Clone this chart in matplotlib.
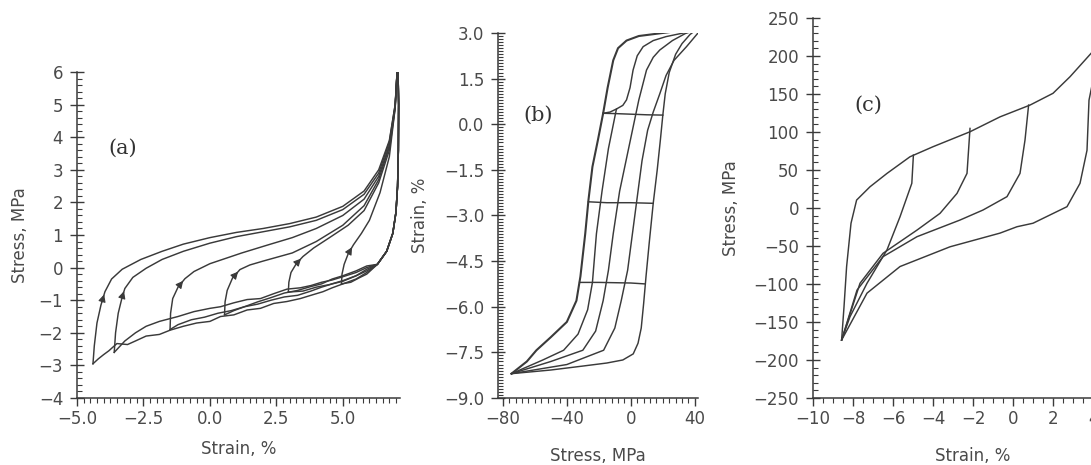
import numpy as np
import matplotlib.pyplot as plt
from matplotlib.ticker import MultipleLocator, FuncFormatter

# ---------------- panel (a): stress vs strain, loops with arrows ----------------
a_load_x = [
    [-4.4, -4.35, -4.25, -4.1, -3.95, -3.7, -3.3, -2.6, -1.8, -1.0, 0.0, 1.0, 2.0, 3.0, 4.0, 5.0, 5.8, 6.35, 6.75, 6.97, 7.07],
    [-3.6, -3.55, -3.45, -3.3, -3.2, -2.9, -2.4, -1.8, -1.0, 0.0, 1.0, 2.0, 3.0, 4.0, 5.0, 5.8, 6.35, 6.75, 6.97, 7.07],
    [-1.5, -1.48, -1.4, -1.2, -0.94, -0.6, 0.0, 1.2, 2.2, 3.1, 4.0, 5.0, 5.8, 6.35, 6.75, 6.97, 7.07],
    [0.55, 0.57, 0.65, 0.85, 1.13, 1.5, 2.0, 3.1, 4.0, 5.0, 5.8, 6.35, 6.75, 6.97, 7.07],
    [2.95, 2.97, 3.05, 3.25, 3.5, 3.9, 4.5, 5.2, 5.8, 6.35, 6.75, 6.97, 7.07],
    [4.95, 4.97, 5.05, 5.2, 5.4, 5.7, 6.0, 6.4, 6.75, 6.97, 7.07],
]
a_load_y = [
    [-2.95, -2.4, -1.7, -1.15, -0.74, -0.35, -0.05, 0.25, 0.5, 0.72, 0.92, 1.08, 1.2, 1.35, 1.55, 1.88, 2.35, 3.0, 3.9, 5.0, 6.4],
    [-2.6, -2.0, -1.4, -0.9, -0.64, -0.3, -0.02, 0.25, 0.5, 0.75, 0.95, 1.1, 1.25, 1.45, 1.78, 2.25, 2.9, 3.85, 5.0, 6.4],
    [-1.9, -1.4, -0.95, -0.6, -0.34, -0.12, 0.12, 0.45, 0.7, 0.92, 1.2, 1.6, 2.1, 2.8, 3.75, 4.95, 6.4],
    [-1.45, -1.05, -0.7, -0.32, -0.06, 0.08, 0.2, 0.45, 0.8, 1.3, 1.9, 2.7, 3.7, 4.95, 6.4],
    [-0.75, -0.45, -0.15, 0.12, 0.34, 0.6, 0.92, 1.3, 1.75, 2.6, 3.6, 4.9, 6.4],
    [-0.5, -0.2, 0.1, 0.42, 0.7, 1.05, 1.45, 2.3, 3.4, 4.9, 6.4],
]
a_arrow_idx = [4, 4, 4, 4, 4, 4]

a_unload_head_x = [7.07, 7.1, 7.09, 7.06, 7.0, 6.88, 6.65, 6.3]
a_unload_head_y = [6.4, 5.0, 3.6, 2.5, 1.7, 1.05, 0.5, 0.1]
a_unload_x = [
    [5.9, 5.5, 5.0, 4.6, 4.25, 3.8, 3.4, 2.9, 2.4, 1.9, 1.4, 0.9, 0.4, 0.0, -0.5, -1.0, -1.5, -1.9, -2.4, -2.8, -3.1, -3.5, -3.8, -4.0, -4.2, -4.4],
    [5.9, 5.5, 5.0, 4.6, 4.2, 3.8, 3.4, 2.9, 2.4, 1.9, 1.4, 0.9, 0.4, 0.0, -0.6, -1.2, -1.9, -2.4, -2.8, -3.2, -3.6],
    [5.9, 5.5, 5.0, 4.6, 4.2, 3.8, 3.3, 2.8, 2.3, 1.8, 1.3, 0.8, 0.3, -0.2, -0.7, -1.2, -1.5],
    [5.9, 5.5, 5.0, 4.6, 4.2, 3.8, 3.3, 2.8, 2.3, 1.8, 1.3, 0.9, 0.55],
    [5.9, 5.5, 5.0, 4.5, 4.0, 3.5, 2.95],
    [5.9, 5.6, 5.3, 4.95],
]
a_unload_y = [
    [-0.15, -0.35, -0.5, -0.62, -0.74, -0.85, -0.95, -1.04, -1.1, -1.25, -1.3, -1.45, -1.5, -1.65, -1.7, -1.8, -1.92, -2.05, -2.1, -2.25, -2.36, -2.33, -2.55, -2.67, -2.8, -2.95],
    [0.0, -0.15, -0.28, -0.38, -0.45, -0.55, -0.62, -0.66, -0.8, -0.95, -0.98, -1.08, -1.2, -1.25, -1.35, -1.5, -1.65, -1.8, -2.0, -2.25, -2.6],
    [-0.1, -0.25, -0.42, -0.5, -0.6, -0.72, -0.85, -0.9, -1.0, -1.12, -1.2, -1.32, -1.4, -1.52, -1.6, -1.75, -1.9],
    [0.05, -0.1, -0.25, -0.35, -0.5, -0.58, -0.7, -0.78, -0.92, -1.05, -1.2, -1.32, -1.45],
    [-0.05, -0.25, -0.4, -0.52, -0.6, -0.72, -0.75],
    [-0.2, -0.32, -0.45, -0.5],
]

# ---------------- panel (b): strain vs stress ----------------
b_curves_stress = [
    [-74.6, -65, -59, -50, -40, -34, -31.5, -28.5, -26.5, -24, -20.5, -17.3, -14.5, -11, -8, -2.7, 5, 20, 42],
    [42, 37, 32, 28, 24, 21.5, 20, 18.5, 16.5, 14, 11.5, 9.5, 8, 6.5, 4.5, 1.5, -5, -15, -30, -50, -74.6],
    [-74.6, -55, -42, -33, -27, -24, -21.5, -18, -14, -9, -5, -2.7, -0.5, 1.4, 4, 7.7, 14, 22, 42],
    [-74.6, -50, -30, -22, -17.3, -14, -11, -7, -3, 1, 5, 9.8, 14, 18.1, 26, 34, 42],
    [-74.6, -40, -17, -10, -6, -2, 1, 4, 7, 10.5, 14, 18.1, 22, 27, 34.8, 42],
    [-17.3, -13, -9],
    [-17.3, -10, 0, 10, 20],
    [-26.5, -15, 0, 14],
    [-32, -20, 0, 9],
]
b_curves_strain = [
    [-8.2, -7.8, -7.43, -7.0, -6.5, -5.8, -5.0, -3.6, -2.5, -1.4, -0.5, 0.36, 1.2, 2.1, 2.5, 2.75, 2.9, 3.0, 3.15],
    [3.15, 2.95, 2.65, 2.3, 1.7, 1.0, 0.3, -0.5, -1.5, -2.6, -3.9, -5.0, -5.9, -6.7, -7.2, -7.55, -7.75, -7.85, -7.95, -8.08, -8.2],
    [-8.2, -7.75, -7.43, -6.9, -6.1, -5.2, -3.6, -2.2, -0.8, 0.5, 0.62, 0.8, 1.2, 1.78, 2.25, 2.55, 2.75, 2.88, 3.1],
    [-8.2, -7.8, -7.43, -6.8, -5.8, -4.8, -3.6, -2.2, -1.2, -0.2, 0.8, 1.78, 2.2, 2.44, 2.75, 2.98, 3.12],
    [-8.2, -7.9, -7.43, -6.7, -5.8, -4.8, -3.6, -2.4, -1.2, -0.2, 0.4, 1.0, 1.6, 2.1, 2.55, 3.0],
    [0.36, 0.4, 0.5],
    [0.36, 0.35, 0.33, 0.31, 0.3],
    [-2.55, -2.58, -2.58, -2.6],
    [-5.2, -5.2, -5.22, -5.25],
]

# ---------------- panel (c): stress vs strain ----------------
c_env_strain = [-8.57, -8.45, -8.32, -8.1, -7.82, -7.15, -6.3, -5.15, -4.0, -2.15, -0.65, 0.85, 2.0, 2.85, 3.9, 4.6, 5.2]
c_env_stress = [-173.7, -130, -77, -20, 10.5, 28, 45.6, 67.5, 80.7, 100.4, 120, 135.5, 151, 172.8, 203.5, 225, 245]
c_unload_strain = [
    [-4.98, -5.06, -5.65, -6.3, -7.3, -8.15, -8.57],
    [-2.15, -2.3, -2.8, -3.65, -4.8, -6.5, -7.65, -8.57],
    [0.78, 0.6, 0.35, -0.3, -1.5, -2.65, -4.8, -6.5, -7.8, -8.57],
    [4.4, 3.8, 3.7, 3.35, 2.7, 1.0, 0.2, -0.65, -3.15, -5.65, -7.3, -8.57],
]
c_unload_stress = [
    [69.7, 32.5, -11.5, -55, -99, -143, -173.7],
    [104.8, 45.6, 19.3, -7, -29, -59.6, -99, -173.7],
    [135.5, 89.5, 45.6, 15, -2.6, -15.8, -37.7, -64, -108, -173.7],
    [220, 142, 76, 32.5, 1.8, -20, -24.6, -33, -51, -77, -112, -173.7],
]

LINE = '#3a3a3a'
TXT = '#4a4a4a'
LW = 1.05


def minus_fmt(fmt):
    return FuncFormatter(lambda v, p: (fmt % v).replace('-', '\u2212'))


def style(ax):
    for s in ['top', 'right']:
        ax.spines[s].set_visible(False)
    for s in ['left', 'bottom']:
        ax.spines[s].set_color(LINE)
        ax.spines[s].set_linewidth(1.1)
    ax.tick_params(axis='x', which='major', direction='out', length=6, width=1.0,
                   color=LINE, labelcolor=TXT, labelsize=12, pad=3)
    ax.tick_params(axis='x', which='minor', direction='out', length=3.5, width=0.8, color=LINE)
    ax.tick_params(axis='y', which='major', direction='inout', length=10, width=1.0,
                   color=LINE, labelcolor=TXT, labelsize=12, pad=5)
    ax.tick_params(axis='y', which='minor', direction='in', length=3.5, width=0.8, color=LINE)


plt.rcParams['font.family'] = ['DejaVu Sans']
fig = plt.figure(figsize=(10.91, 4.65), dpi=100)

# panel (a)
ax1 = fig.add_axes([0.0706, 0.1441, 0.296, 0.701])
for lx, ly, ai in zip(a_load_x, a_load_y, a_arrow_idx):
    ax1.plot(lx, ly, color=LINE, lw=LW)
    ax1.annotate('', xy=(lx[ai], ly[ai]), xytext=(lx[ai - 1], ly[ai - 1]),
                 arrowprops=dict(arrowstyle='-|>', color=LINE, lw=0.8, mutation_scale=11))
for ux, uy in zip(a_unload_x, a_unload_y):
    ax1.plot(a_unload_head_x + ux, a_unload_head_y + uy, color=LINE, lw=LW)
ax1.set_xlim(-5, 7.15)
ax1.set_ylim(-4, 6)
ax1.xaxis.set_major_locator(MultipleLocator(2.5))
ax1.xaxis.set_minor_locator(MultipleLocator(0.25))
ax1.yaxis.set_major_locator(MultipleLocator(1))
ax1.yaxis.set_minor_locator(MultipleLocator(0.2))
ax1.xaxis.set_major_formatter(minus_fmt('%.1f'))
ax1.yaxis.set_major_formatter(minus_fmt('%d'))
style(ax1)
ax1.set_xlabel('Strain, %', color=TXT, fontsize=12, labelpad=8)
ax1.set_ylabel('Stress, MPa', color=TXT, fontsize=12, labelpad=7)
ax1.text(-3.27, 3.65, '(a)', family='DejaVu Serif', fontsize=15, color='#333333',
         ha='center', va='center')

# panel (b)
ax2 = fig.add_axes([0.4565, 0.1441, 0.1833, 0.785])
for i, (cx, cy) in enumerate(zip(b_curves_stress, b_curves_strain)):
    ax2.plot(cx, cy, color=LINE, lw=1.5 if i == 0 else LW)
ax2.set_xlim(-83, 42)
ax2.set_ylim(-9, 3)
ax2.xaxis.set_major_locator(MultipleLocator(40))
ax2.xaxis.set_minor_locator(MultipleLocator(4))
ax2.yaxis.set_major_locator(MultipleLocator(1.5))
ax2.yaxis.set_minor_locator(MultipleLocator(0.1))
ax2.xaxis.set_major_formatter(minus_fmt('%d'))
ax2.yaxis.set_major_formatter(minus_fmt('%.1f'))
style(ax2)
ax2.set_xlabel('Stress, MPa', color=TXT, fontsize=12, labelpad=13)
ax2.set_ylabel('Strain, %', color=TXT, fontsize=12, labelpad=11)
ax2.text(-58, 0.3, '(b)', family='DejaVu Serif', fontsize=15, color='#333333',
         ha='center', va='center')

# panel (c)
ax3 = fig.add_axes([0.7452, 0.1441, 0.2933, 0.817])
ax3.plot(c_env_strain, c_env_stress, color=LINE, lw=LW)
for ux, uy in zip(c_unload_strain, c_unload_stress):
    ax3.plot(ux, uy, color=LINE, lw=LW)
ax3.set_xlim(-10, 6)
ax3.set_ylim(-250, 250)
ax3.xaxis.set_major_locator(MultipleLocator(2))
ax3.xaxis.set_minor_locator(MultipleLocator(0.5))
ax3.yaxis.set_major_locator(MultipleLocator(50))
ax3.yaxis.set_minor_locator(MultipleLocator(10))
ax3.xaxis.set_major_formatter(minus_fmt('%d'))
ax3.yaxis.set_major_formatter(minus_fmt('%d'))
style(ax3)
ax3.set_xlabel('Strain, %', color=TXT, fontsize=12, labelpad=13)
ax3.set_ylabel('Stress, MPa', color=TXT, fontsize=12, labelpad=10)
ax3.text(-7.25, 135, '(c)', family='DejaVu Serif', fontsize=15, color='#333333',
         ha='center', va='center')

fig.savefig('out.png', dpi=100)
plt.close(fig)
